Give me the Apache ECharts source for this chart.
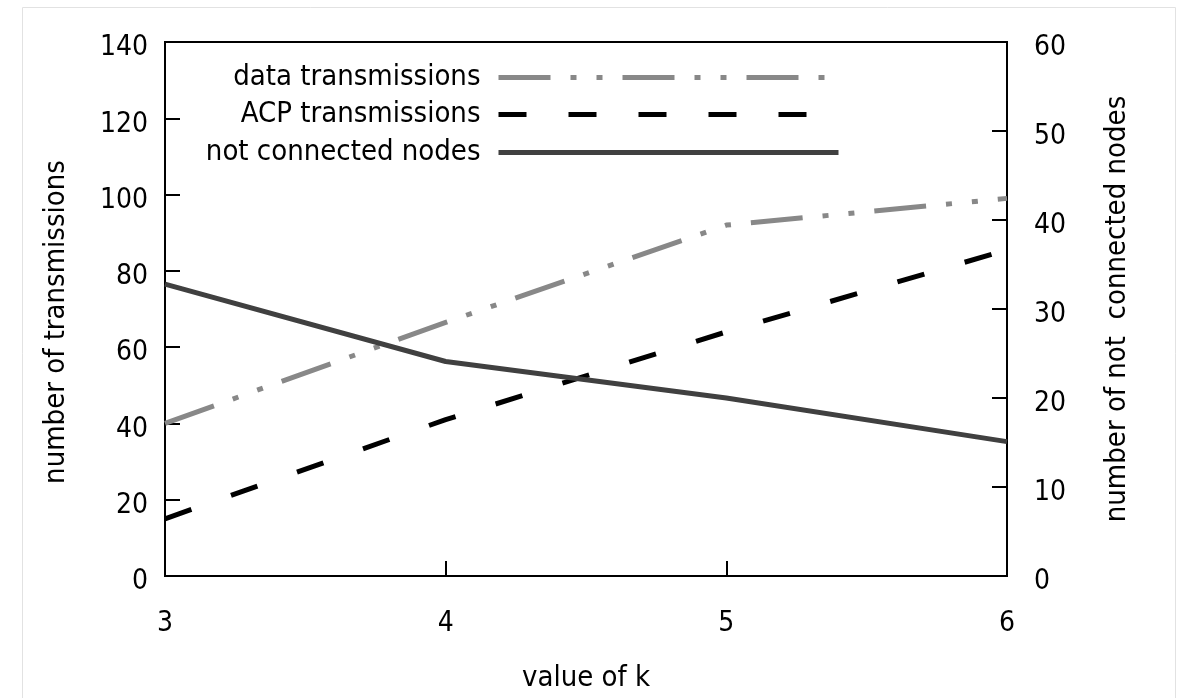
<!DOCTYPE html>
<html>
<head>
<meta charset="utf-8">
<script src="https://cdn.jsdelivr.net/npm/echarts@6/dist/echarts.min.js"></script>
<style>
  html, body { margin: 0; padding: 0; background: #fff; }
  #main { width: 1181px; height: 698px; }
</style>
</head>
<body>
<div id="main"></div>
<script>
// k values and the three curves
var kValues = [3, 4, 5, 6];
var dataTx = [40, 66.5, 92, 99];        // left axis
var acpTx = [15, 41, 64, 85.5];         // left axis
var notConnected = [32.8, 24.1, 20, 15.1]; // right axis

var leftTicks = { min: 0, max: 140, interval: 20 };
var rightTicks = { min: 0, max: 60, interval: 10 };

var FONT = "'DejaVu Sans Condensed', 'DejaVu Sans', Verdana, sans-serif";

function pairs(xs, ys) {
  var out = [];
  for (var i = 0; i < xs.length; i++) out.push([xs[i], ys[i]]);
  return out;
}

function legendFor(name, top) {
  return {
    data: [name],
    right: 335,
    top: top,
    align: 'right',
    itemWidth: 340,
    itemHeight: 28,
    selectedMode: false,
    itemStyle: { opacity: 0 },
    lineStyle: { width: 5 },
    textStyle: { fontFamily: FONT, fontSize: 29, color: '#000', padding: [0, 13, 0, 0], lineHeight: 28 }
  };
}

// y tick labels sit a little below their ticks in the original
var yLabel = {
  formatter: '{v|{value}}',
  rich: { v: { fontFamily: FONT, fontSize: 28, color: '#000', padding: [12, 0, 0, 0] } }
};

var myChart = echarts.init(document.getElementById('main'), null, { renderer: 'canvas' });

var axisCommon = {
  axisLine: { show: true, lineStyle: { color: '#000', width: 2 } },
  axisTick: { show: true, inside: true, length: 15, lineStyle: { color: '#000', width: 2 } },
  splitLine: { show: false }
};

var option = {
  backgroundColor: '#fff',
  animation: false,
  graphic: [{
    type: 'rect',
    shape: { x: 22.5, y: 7.5, width: 1153, height: 720 },
    style: { fill: 'none', stroke: '#e2e2e2', lineWidth: 1 },
    silent: true
  }],
  grid: {
    left: 165, right: 174, top: 42, bottom: 119,
    show: true, borderColor: '#000', borderWidth: 2, backgroundColor: 'transparent'
  },
  legend: [
    legendFor('data transmissions', 58),
    legendFor('ACP transmissions', 95),
    legendFor('not connected nodes', 133)
  ],
  xAxis: Object.assign({
    type: 'value',
    min: 3, max: 6, interval: 1,
    name: 'value of k',
    nameLocation: 'middle',
    nameGap: 88,
    nameTextStyle: { fontFamily: FONT, fontSize: 29, color: '#000' },
    axisLabel: { fontFamily: FONT, fontSize: 28, color: '#000', margin: 34 }
  }, axisCommon),
  yAxis: [
    Object.assign({
      type: 'value',
      position: 'left',
      min: leftTicks.min, max: leftTicks.max, interval: leftTicks.interval,
      name: 'number of transmissions',
      nameLocation: 'middle',
      nameRotate: 90,
      nameGap: 94,
      nameTextStyle: { fontFamily: FONT, fontSize: 29, color: '#000', padding: [0, 26, 0, 0] },
      axisLabel: Object.assign({ margin: 17 }, yLabel)
    }, axisCommon),
    Object.assign({
      type: 'value',
      position: 'right',
      min: rightTicks.min, max: rightTicks.max, interval: rightTicks.interval,
      name: 'number of not  connected nodes',
      nameLocation: 'middle',
      nameRotate: 90,
      nameGap: 96,
      nameTextStyle: { fontFamily: FONT, fontSize: 29, color: '#000' },
      axisLabel: Object.assign({ margin: 27 }, yLabel)
    }, axisCommon)
  ],
  series: [
    {
      name: 'data transmissions',
      type: 'line',
      yAxisIndex: 0,
      data: pairs(kValues, dataTx),
      symbol: 'none',
      lineStyle: { color: '#888888', width: 5, type: [52, 20, 6, 20, 6, 20], cap: 'butt' },
      itemStyle: { color: '#888888' }
    },
    {
      name: 'ACP transmissions',
      type: 'line',
      yAxisIndex: 0,
      data: pairs(kValues, acpTx),
      symbol: 'none',
      lineStyle: { color: '#000000', width: 5, type: [28, 42], cap: 'butt' },
      itemStyle: { color: '#000000' }
    },
    {
      name: 'not connected nodes',
      type: 'line',
      yAxisIndex: 1,
      data: pairs(kValues, notConnected),
      symbol: 'none',
      lineStyle: { color: '#404040', width: 5 },
      itemStyle: { color: '#404040' }
    }
  ]
};

myChart.setOption(option);
</script>
</body>
</html>
